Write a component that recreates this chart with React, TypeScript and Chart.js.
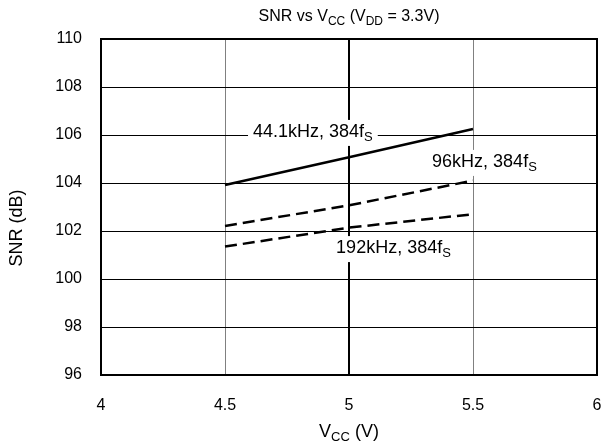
import React, { useEffect, useRef } from "react";
import { Chart, registerables } from "chart.js";

Chart.register(...registerables);

const vccValues = [4.5, 5, 5.5];
const snr441 = [103.92, 105.07, 106.25];
const snr96 = [102.21, 103.07, 104.1];
const snr192 = [101.35, 102.14, 102.7];

const xTicks = [4, 4.5, 5, 5.5, 6];
const yTicks = [96, 98, 100, 102, 104, 106, 108, 110];

const labelMain = ["44.1kHz, 384f", "96kHz, 384f", "192kHz, 384f"];
const labelSub = ["S", "S", "S"];
const labelX = [4.613, 5.335, 4.948];
const labelY = [105.92, 104.67, 101.08];

const FONT = "'Liberation Sans', Arial, Helvetica, sans-serif";

type Part = { t: string; sub?: boolean };

function richWidth(ctx: CanvasRenderingContext2D, parts: Part[], size: number, subSize: number) {
  let w = 0;
  for (const p of parts) {
    ctx.font = `${p.sub ? subSize : size}px ${FONT}`;
    w += ctx.measureText(p.t).width;
  }
  return w;
}

function drawRich(
  ctx: CanvasRenderingContext2D,
  parts: Part[],
  x: number,
  y: number,
  size: number,
  subSize: number,
  subDrop: number,
  align: "left" | "center"
) {
  const w = richWidth(ctx, parts, size, subSize);
  let cx = align === "center" ? x - w / 2 : x;
  ctx.textAlign = "left";
  ctx.textBaseline = "alphabetic";
  ctx.fillStyle = "#000";
  for (const p of parts) {
    ctx.font = `${p.sub ? subSize : size}px ${FONT}`;
    ctx.fillText(p.t, cx, p.sub ? y + subDrop : y);
    cx += ctx.measureText(p.t).width;
  }
  return w;
}

const decorPlugin = {
  id: "decor",
  beforeDraw(chart: any) {
    const ctx = chart.ctx as CanvasRenderingContext2D;
    ctx.save();
    ctx.fillStyle = "#fff";
    ctx.fillRect(0, 0, chart.width, chart.height);
    ctx.restore();
  },
  afterDatasetsDraw(chart: any) {
    const ctx = chart.ctx as CanvasRenderingContext2D;
    const { left, right, top, bottom } = chart.chartArea;
    const xs = chart.scales.x;
    const ys = chart.scales.y;
    ctx.save();
    // curve labels
    for (let i = 0; i < labelMain.length; i++) {
      const parts: Part[] = [{ t: labelMain[i] }, { t: labelSub[i], sub: true }];
      const px = xs.getPixelForValue(labelX[i]);
      const py = ys.getPixelForValue(labelY[i]);
      const w = richWidth(ctx, parts, 18, 13);
      ctx.fillStyle = "#fff";
      ctx.fillRect(px - 5, py - 17, w + 10, 26);
      drawRich(ctx, parts, px, py, 18, 13, 4, "left");
    }
    // frame
    ctx.strokeStyle = "#000";
    ctx.lineWidth = 2;
    ctx.strokeRect(left, top, right - left, bottom - top);
    // title
    drawRich(
      ctx,
      [
        { t: "SNR vs V" },
        { t: "CC", sub: true },
        { t: " (V" },
        { t: "DD", sub: true },
        { t: " = 3.3V)" },
      ],
      (left + right) / 2,
      21,
      16,
      12,
      4,
      "center"
    );
    // x title
    drawRich(
      ctx,
      [{ t: "V" }, { t: "CC", sub: true }, { t: " (V)" }],
      (left + right) / 2,
      437,
      18,
      13,
      4,
      "center"
    );
    // y title
    ctx.translate(22, 228);
    ctx.rotate(-Math.PI / 2);
    drawRich(ctx, [{ t: "SNR (dB)" }], 0, 0, 18, 13, 4, "center");
    ctx.restore();
  },
};

export default function App() {
  const ref = useRef<HTMLCanvasElement | null>(null);
  useEffect(() => {
    document.body.style.margin = "0";
    const canvas = ref.current;
    if (!canvas) return;
    const mk = (vals: number[]) => vccValues.map((x, i) => ({ x, y: vals[i] }));
    const chart = new Chart(canvas, {
      type: "line",
      data: {
        datasets: [
          {
            label: "44.1kHz, 384fS",
            data: mk(snr441),
            borderColor: "#000",
            borderWidth: 2.5,
            pointRadius: 0,
            tension: 0,
            fill: false,
          },
          {
            label: "96kHz, 384fS",
            data: mk(snr96),
            borderColor: "#000",
            borderWidth: 2.5,
            borderDash: [12, 6],
            pointRadius: 0,
            tension: 0,
            fill: false,
          },
          {
            label: "192kHz, 384fS",
            data: mk(snr192),
            borderColor: "#000",
            borderWidth: 2.5,
            borderDash: [12, 6],
            pointRadius: 0,
            tension: 0,
            fill: false,
          },
        ],
      },
      options: {
        animation: false,
        responsive: false,
        devicePixelRatio: 1,
        layout: { padding: { top: 39, right: 6, left: 0, bottom: 0 } },
        plugins: {
          legend: { display: false },
          title: { display: false },
          tooltip: { enabled: false },
        },
        scales: {
          x: {
            type: "linear",
            min: xTicks[0],
            max: xTicks[xTicks.length - 1],
            afterBuildTicks: (s: any) => {
              s.ticks = xTicks.map((v) => ({ value: v }));
            },
            afterFit: (s: any) => {
              s.height = 71;
              s.paddingLeft = 0;
              s.paddingRight = 0;
            },
            border: { display: false },
            grid: {
              drawTicks: false,
              color: (c: any) => (c.tick && c.tick.value === 5 ? "#000" : "#808080"),
              lineWidth: (c: any) => (c.tick && c.tick.value === 5 ? 2 : 1),
            },
            ticks: {
              padding: 21,
              color: "#000",
              font: { family: FONT, size: 16 },
              maxRotation: 0,
              autoSkip: false,
              callback: (v: any) => String(v),
            },
          },
          y: {
            type: "linear",
            min: yTicks[0],
            max: yTicks[yTicks.length - 1],
            afterBuildTicks: (s: any) => {
              s.ticks = yTicks.map((v) => ({ value: v }));
            },
            afterFit: (s: any) => {
              s.width = 101;
              s.paddingTop = 0;
              s.paddingBottom = 0;
            },
            border: { display: false },
            grid: {
              drawTicks: false,
              color: "#000",
              lineWidth: 1,
            },
            ticks: {
              padding: 19,
              color: "#000",
              font: { family: FONT, size: 16 },
              autoSkip: false,
              callback: (v: any) => String(v),
            },
          },
        },
      },
      plugins: [decorPlugin],
    });
    return () => chart.destroy();
  }, []);
  return <canvas ref={ref} width={603} height={446} style={{ display: "block" }} />;
}
